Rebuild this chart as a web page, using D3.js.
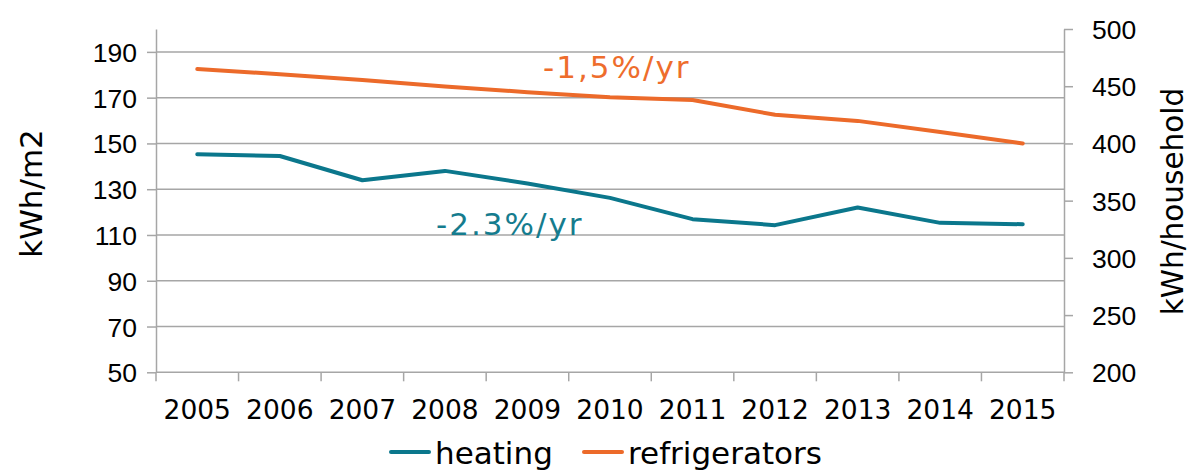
<!DOCTYPE html>
<html>
<head>
<meta charset="utf-8">
<script src="https://cdn.jsdelivr.net/npm/d3@7"></script>
<style>
  body { margin: 0; background: #fff; }
  svg { display: block; font-family: "DejaVu Sans", Verdana, sans-serif; }
  .grid line { stroke: #a6a6a6; stroke-width: 1.5; }
  .axis path, .axis line { stroke: #a6a6a6; stroke-width: 1.5; }
  .axis text { fill: #000; font-size: 26.5px; }
</style>
</head>
<body>
<script>
(function(){

// chart data
var years = ["2005","2006","2007","2008","2009","2010","2011","2012","2013","2014","2015"];
var heating = [145.3, 144.5, 133.9, 138, 132.5, 126.2, 116.9, 114.3, 122, 115.3, 114.7]; // kWh/m2
var refrigerators = [465, 460.5, 455.5, 449.7, 444.8, 440.4, 438, 425, 419.7, 410, 400]; // kWh/household
var leftTicks = [50, 70, 90, 110, 130, 150, 170, 190];
var rightTicks = [200, 250, 300, 350, 400, 450, 500];

var width = 1190, height = 471;
var left = 156, right = 1064, top = 29, bottom = 372.3;

var svg = d3.select("body").append("svg")
    .attr("width", width)
    .attr("height", height);

var x = d3.scaleBand().domain(years).range([left, right]);
var yL = d3.scaleLinear().domain([50, 200]).range([bottom, top]);
var yR = d3.scaleLinear().domain([200, 500]).range([bottom, top]);

//horizontal gridlines
svg.append("g").attr("class", "grid")
    .selectAll("line")
    .data(leftTicks.slice(1))
    .enter().append("line")
    .attr("x1", left).attr("x2", right)
    .attr("y1", function(d){ return yL(d); })
    .attr("y2", function(d){ return yL(d); });

//left axis
var gL = svg.append("g").attr("class", "axis")
    .attr("transform", "translate(" + left + ",0)")
    .call(d3.axisLeft(yL).tickValues(leftTicks).tickSize(9).tickSizeOuter(0).tickPadding(10));
gL.selectAll("text").attr("dy", "0.36em");

//right axis
var gR = svg.append("g").attr("class", "axis")
    .attr("transform", "translate(" + right + ",0)")
    .call(d3.axisRight(yR).tickValues(rightTicks).tickSize(9).tickSizeOuter(0).tickPadding(19));
gR.selectAll("text").attr("dy", "0.36em");

//bottom axis, ticks on category boundaries
var gB = svg.append("g").attr("class", "axis")
    .attr("transform", "translate(0," + bottom + ")");
gB.append("line").attr("x1", left).attr("x2", right).attr("y1", 0).attr("y2", 0);
gB.selectAll(".tk")
    .data(years.concat(["end"]))
    .enter().append("line")
    .attr("class", "tk")
    .attr("x1", function(d, i){ return left + i * x.step(); })
    .attr("x2", function(d, i){ return left + i * x.step(); })
    .attr("y1", 0).attr("y2", 9);
gB.selectAll("text")
    .data(years)
    .enter().append("text")
    .attr("x", function(d){ return x(d) + x.bandwidth() / 2; })
    .attr("y", 47)
    .attr("text-anchor", "middle")
    .text(function(d){ return d; });

//axis titles
svg.append("text")
    .attr("transform", "translate(41.5,193.5) rotate(-90)")
    .attr("text-anchor", "middle")
    .style("font-size", "31px")
    .text("kWh/m2");
svg.append("text")
    .attr("transform", "translate(1183,201.5) rotate(-90)")
    .attr("text-anchor", "middle")
    .style("font-size", "29.5px")
    .text("kWh/household");

var teal = "#0b778c", orange = "#ec6a2a";

//lines
var lineL = d3.line()
    .x(function(d, i){ return x(years[i]) + x.bandwidth() / 2; })
    .y(function(d){ return yL(d); });
var lineR = d3.line()
    .x(function(d, i){ return x(years[i]) + x.bandwidth() / 2; })
    .y(function(d){ return yR(d); });

svg.append("path").datum(heating)
    .attr("d", lineL)
    .attr("fill", "none").attr("stroke", teal)
    .attr("stroke-width", 4).attr("stroke-linecap", "round").attr("stroke-linejoin", "round");
svg.append("path").datum(refrigerators)
    .attr("d", lineR)
    .attr("fill", "none").attr("stroke", orange)
    .attr("stroke-width", 4).attr("stroke-linecap", "round").attr("stroke-linejoin", "round");

//annotations
svg.append("text")
    .attr("x", 543).attr("y", 77.5)
    .style("font-size", "31px").style("letter-spacing", "2px").style("fill", "#ee6d2c")
    .text("-1,5%/yr");
svg.append("text")
    .attr("x", 436).attr("y", 234.5)
    .style("font-size", "31px").style("letter-spacing", "2px").style("fill", "#157c8e")
    .text("-2.3%/yr");

//legend (kept just inside the bottom edge)
var legend = [{name: "heating", color: teal, x: 391}, {name: "refrigerators", color: orange, x: 584}];
var lg = svg.selectAll(".legend")
    .data(legend)
    .enter().append("g")
    .attr("class", "legend");
lg.append("line")
    .attr("x1", function(d){ return d.x; })
    .attr("x2", function(d){ return d.x + 38; })
    .attr("y1", 452).attr("y2", 452)
    .attr("stroke", function(d){ return d.color; })
    .attr("stroke-width", 4).attr("stroke-linecap", "round");
lg.append("text")
    .attr("x", function(d){ return d.x + 44; })
    .attr("y", 463.5)
    .style("font-size", "31px")
    .text(function(d){ return d.name; });

})();
</script>
</body>
</html>
